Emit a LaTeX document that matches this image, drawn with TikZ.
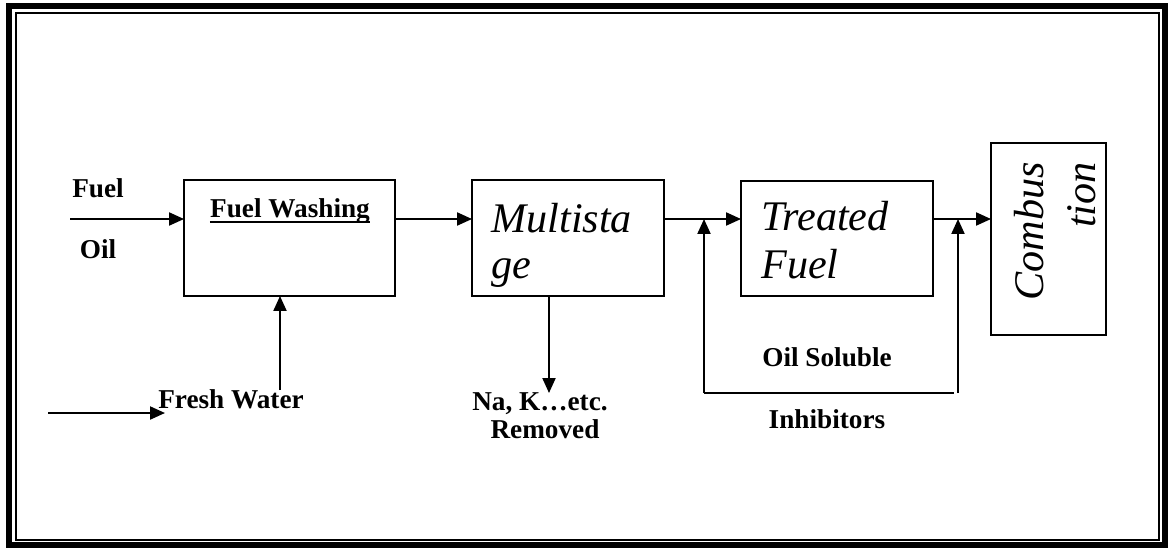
\documentclass[tikz,border=0pt]{standalone}
\usepackage{fontspec}
\setmainfont{Liberation Serif}
\usetikzlibrary{arrows.meta,positioning,calc}

\tikzset{
  box/.style={draw, line width=1.1pt, inner sep=0pt, outer sep=0pt},
  arr/.style={-{Triangle[length=8.5pt,width=7.4pt]}, line width=1.1pt},
  lbl/.style={font=\fontsize{15.5}{16}\selectfont\bfseries, inner sep=0pt},
  big/.style={font=\fontsize{24}{26}\selectfont\itshape, inner sep=0pt},
}

\begin{document}
\begin{tikzpicture}[x=0.02cm,y=-0.02cm]
    \useasboundingbox (0,0) rectangle (1169,548);

        % double frame
        \draw[line width=3.4pt] (9,6) rectangle (1165,545);
        \draw[line width=1.1pt] (16,13) rectangle (1159,540);

        \node[box, minimum width=4.22cm, minimum height=2.32cm] (wash) at (289.5,238) {};
        \node[box, minimum width=3.84cm, minimum height=2.32cm] (multi) at (568,238) {};
        \node[box, minimum width=3.84cm, minimum height=2.30cm] (treat) at (837,238.5) {};
        \node[box, minimum width=2.30cm, minimum height=3.84cm] (comb) at (1048.5,239) {};

        \node[lbl, anchor=base] (washtxt) at (290,217) {Fuel Washing};
        \draw[line width=1.1pt] ([yshift=-2.6pt]washtxt.base west) -- ([yshift=-2.6pt]washtxt.base east);
        \node[big, anchor=base west] (multia) at (491,232) {Multista};
        \node[big, anchor=base west] (multib) at (491,278) {ge};
        \node[big, anchor=base west] (treata) at (761,230) {Treated};
        \node[big, anchor=base west] (treatb) at (761,278) {Fuel};
        \node[big, rotate=90, anchor=base east] (comba) at (1043,162) {Combus};
        \node[big, rotate=90, anchor=base east] (combb) at (1095,162) {tion};

        \node[lbl, anchor=base] (fuel) at (98,197) {Fuel};
        \node[lbl, anchor=base] (oil) at (98,258) {Oil};
        \node[lbl, anchor=base] (fresh) at (231,408) {Fresh Water};
        \node[lbl, anchor=base] (na) at (540,410) {Na, K…etc.};
        \node[lbl, anchor=base] (removed) at (545,438) {Removed};
        \node[lbl, anchor=base] (soluble) at (827,366) {Oil Soluble};
        \node[lbl, anchor=base] (inhib) at (827,428) {Inhibitors};

        \coordinate (fuelin) at (70,219);
        \coordinate (fwa) at (48,413);
        \coordinate (fwb) at (165,413);
        \coordinate (fwup) at (280,390);
        \coordinate (rm) at (549,393);
        \coordinate (inl) at (704,393);
        \coordinate (inm) at (954,393);
        \coordinate (inr) at (958,393);

        \draw[arr] (fuelin) -- (fuelin -| wash.west);
        \draw[arr] (fuelin -| wash.east) -- (fuelin -| multi.west);
        \draw[arr] (fuelin -| multi.east) -- (fuelin -| treat.west);
        \draw[arr] (fuelin -| treat.east) -- (fuelin -| comb.west);

        \draw[arr] (fwa) -- (fwb);
        \draw[arr] (fwup) -- (fwup |- wash.south);
        \draw[arr] (rm |- multi.south) -- (rm);

        \draw[line width=1.1pt] (inl) -- (inm);
        \draw[arr] (inl) -- (inl |- fuelin);
        \draw[arr] (inr) -- (inr |- fuelin);

\end{tikzpicture}
\end{document}
